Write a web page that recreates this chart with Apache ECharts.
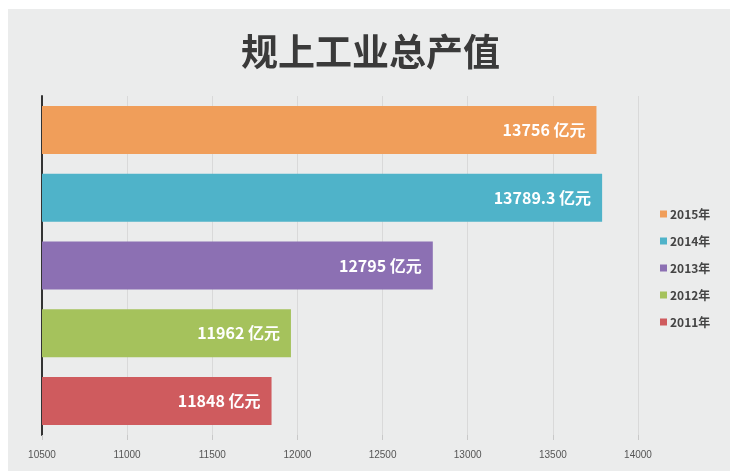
<!DOCTYPE html>
<html>
<head>
<meta charset="utf-8">
<script src="https://cdn.jsdelivr.net/npm/echarts@6/dist/echarts.min.js"></script>
<style>
  html, body { margin: 0; padding: 0; background: #fff; }
  #panel { position: absolute; left: 8px; top: 9px; width: 722px; height: 462px; background: #ebecec; }
  #chart { position: absolute; left: 0; top: 0; width: 753px; height: 471px; }
</style>
</head>
<body>
<div id="panel"></div>
<div id="chart"></div>
<script>
// 年份（自下而上）和对应产值
const years = ['2011年', '2012年', '2013年', '2014年', '2015年'];
const values = [11848, 11962, 12795, 13789.3, 13756];
const colors = ['#cf5b5e', '#a5c25c', '#8c70b3', '#4fb3c9', '#f09e5a'];
const xTicks = { min: 10500, max: 14000, interval: 500 };

const chart = echarts.init(document.getElementById('chart'));

// 每个年份一个系列，方便图例单独着色
const series = years.map((name, i) => ({
  name: name,
  type: 'bar',
  stack: 'total',
  barWidth: 48,
  data: values.map((v, j) => (j === i ? v : '-')),
  itemStyle: { color: colors[i] },
  label: {
    show: true,
    position: 'insideRight',
    distance: 11,
    formatter: '{c} 亿元',
    color: '#fff',
    fontSize: 16,
    fontWeight: 'bold',
    fontFamily: 'Noto Sans CJK SC',
  },
}));

chart.setOption({
  backgroundColor: 'transparent',
  animation: false,
  title: {
    text: '规上工业总产值',
    left: 236,
    top: 28,
    textStyle: {
      fontSize: 37,
      fontWeight: 'bold',
      color: '#3a3a3a',
      fontFamily: 'Noto Sans CJK SC',
    },
  },
  legend: {
    orient: 'vertical',
    left: 655,
    top: 203,
    itemWidth: 7,
    itemHeight: 7,
    itemGap: 15,
    icon: 'rect',
    data: years.slice().reverse(),
    textStyle: { fontSize: 12, color: '#444', fontWeight: 'bold', fontFamily: 'Noto Sans CJK SC', padding: [0, 0, 0, -2] },
  },
  grid: { left: 42, right: 115, top: 96, bottom: 36 },
  xAxis: {
    type: 'value',
    min: xTicks.min,
    max: xTicks.max,
    interval: xTicks.interval,
    axisLine: { show: false },
    axisTick: { show: true, length: 5, lineStyle: { color: '#c8c8c8' } },
    axisLabel: {
      color: '#555',
      fontSize: 10,
      margin: 15,
      fontFamily: 'Liberation Sans Narrow, Liberation Sans',
      formatter: (v) => String(v),
    },
    splitLine: { show: true, lineStyle: { color: '#d9d9d9' } },
  },
  yAxis: {
    type: 'category',
    data: years,
    axisLine: { show: true, lineStyle: { color: '#333', width: 2 } },
    axisTick: { show: false },
    axisLabel: { show: false },
  },
  series: series,
});
</script>
</body>
</html>
